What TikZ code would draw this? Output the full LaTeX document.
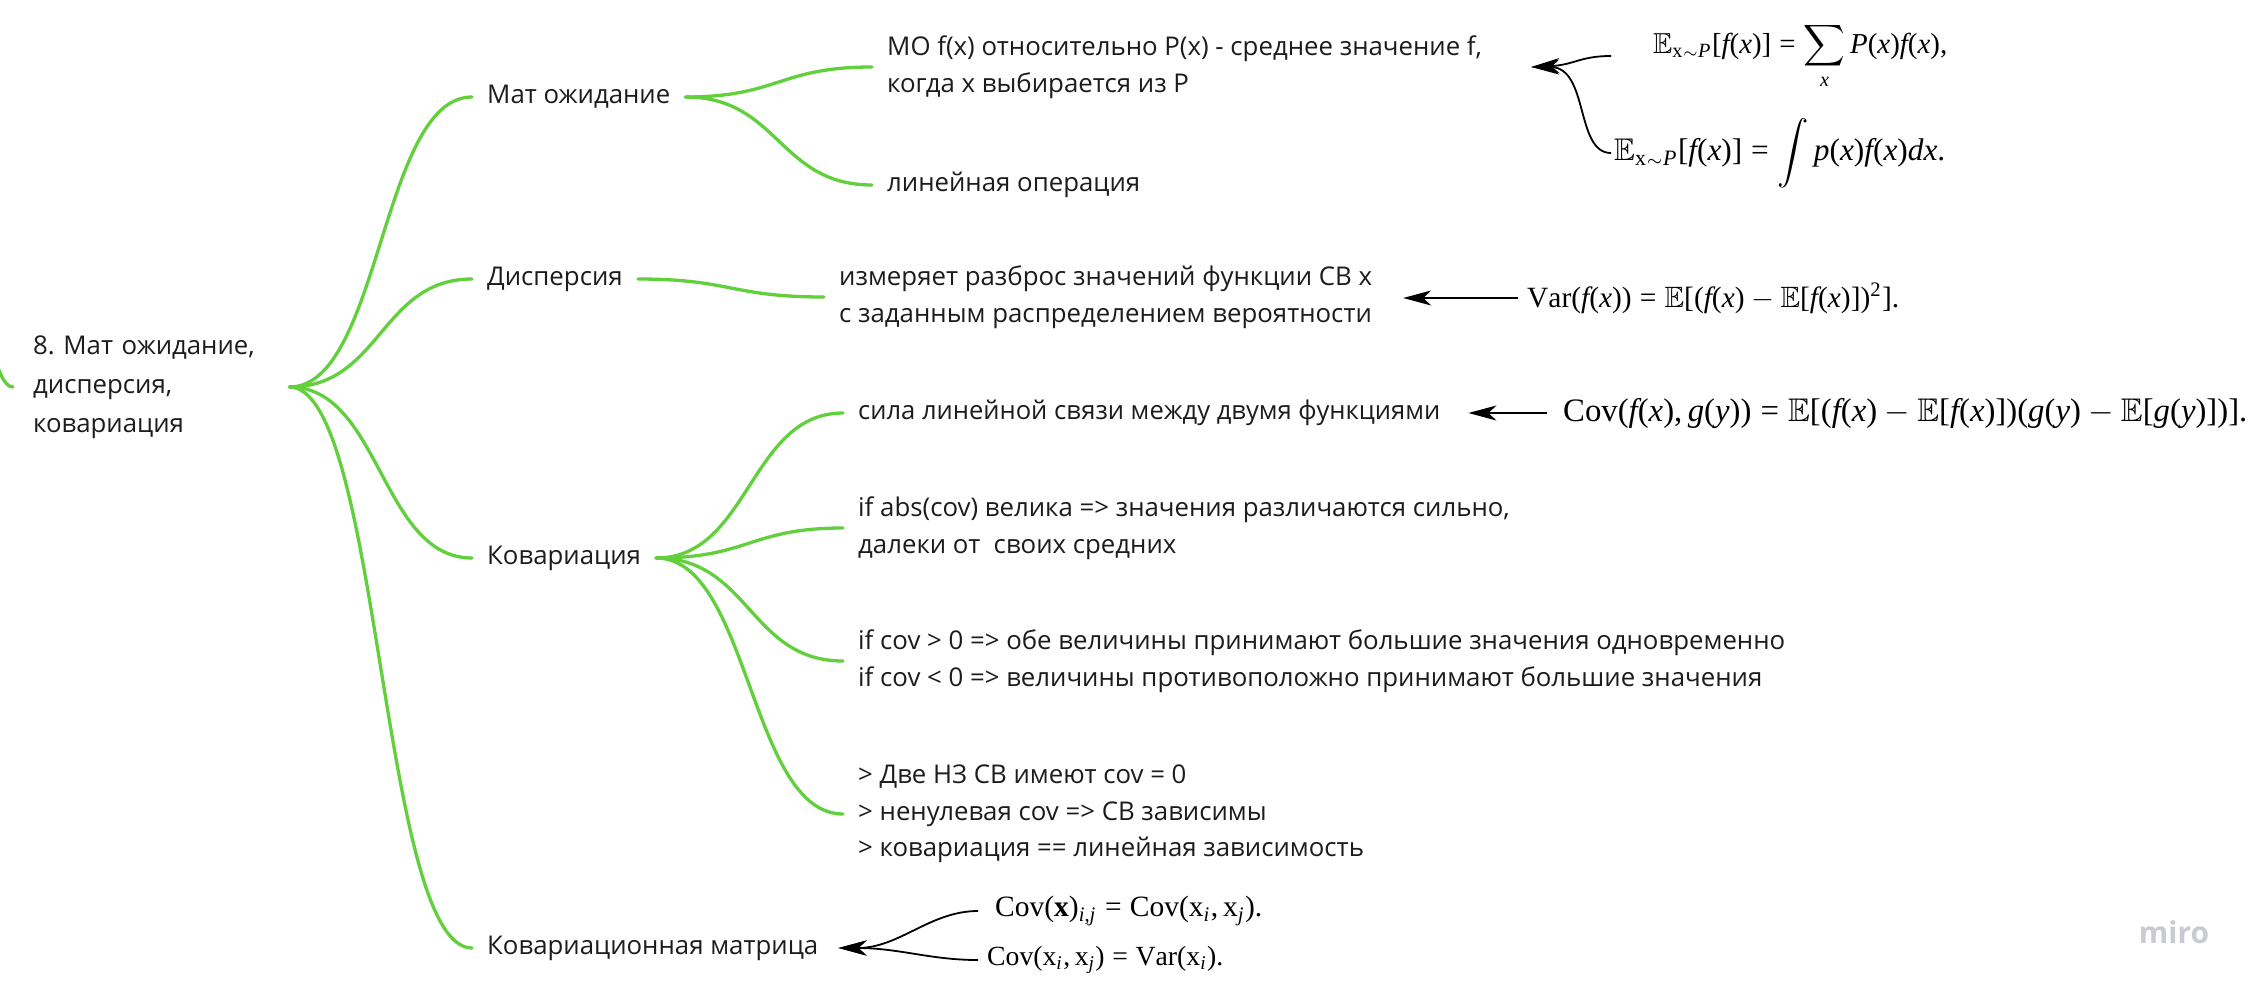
\documentclass[tikz,border=0pt]{standalone}
\usepackage{amsmath}
\usepackage{amssymb}
\usepackage[no-math]{fontspec}
\setmainfont{Open Sans}
\newfontfamily\tms{Liberation Serif}[NFSSFamily=tmsfam]
\SetSymbolFont{operators}{normal}{TU}{tmsfam}{m}{n}
\SetSymbolFont{letters}{normal}{TU}{tmsfam}{m}{it}
\SetMathAlphabet{\mathbf}{normal}{TU}{tmsfam}{b}{n}
\AtBeginDocument{\mathcode`\,="602C \mathcode`\.="002E}
\usepackage{graphicx}
\usetikzlibrary{arrows.meta,calc}
\definecolor{branch}{HTML}{62CF3C}
\definecolor{ink}{HTML}{1C1C1C}
\definecolor{wm}{HTML}{CACAD2}
\newcommand{\mfs}{\fontsize{25.8}{36.5}\selectfont}
\newcommand{\rfs}{\fontsize{25.8}{39}\selectfont}
\frenchspacing
\begin{document}
\begin{tikzpicture}[x=1pt,y=-1pt,
  hcurve/.style={to path={let \p1=(\tikztostart), \p2=(\tikztotarget) in .. controls ({(\x1+\x2)/2},\y1) and ({(\x1+\x2)/2},\y2) .. (\tikztotarget) \tikztonodes}},
  branchline/.style={draw=branch, line width=3.3pt, line cap=round, hcurve},
  txt/.style={anchor=west, inner xsep=15pt, inner ysep=3pt, align=left, text=ink, font=\mfs},
  fml/.style={anchor=west, inner ysep=0pt, text=black},
  blk/.style={draw=black, line width=1.8pt, -{Stealth[length=28pt,width=15pt,inset=8pt]}},
]
\fill[white] (0,0) rectangle (2262,994);
\useasboundingbox (0,0) rectangle (2262,994);

% root and incoming branch
\coordinate (rootin) at (-60,100);
\node[txt, font=\rfs, text width=236pt, inner xsep=20pt] (root) at (13,387) {8. Мат ожидание,\\дисперсия,\\ковариация};

% level 1
\node[txt] (mat) at (472,97) {Мат ожидание};
\node[txt] (disp) at (472,279) {Дисперсия};
\node[txt] (cov) at (472,558) {Ковариация};
\node[txt] (cmat) at (472,948) {Ковариационная матрица};

% level 2
\node[txt] (mo) at (872,67) {МО f(x) относительно P(x) - среднее значение f,\\когда x выбирается из P};
\node[txt] (lin) at (872,185) {линейная операция};
\node[txt] (meas) at (824,297) {измеряет разброс значений функции СВ х\\с заданным распределением вероятности};
\node[txt] (c1) at (843,413) {\resizebox{582pt}{\height}{сила линейной связи между двумя функциями}};
\node[txt] (c2) at (843,528) {if abs(cov) велика => значения различаются сильно,\\далеки от\ \ своих средних};
\node[txt] (c3) at (843,661) {if cov > 0 => обе величины принимают большие значения одновременно\\if cov < 0 => величины противоположно принимают большие значения};
\node[txt] (c4) at (843,814) {> Две НЗ СВ имеют cov = 0\\> ненулевая cov => СВ зависимы\\> ковариация == линейная зависимость};

% formulas
\node[fml, inner xsep=42pt] (e1) at (1611,56) {\resizebox{294pt}{!}{$\displaystyle \mathbb{E}_{\mathrm{x}{\scriptscriptstyle\sim}P}[f(x)]=\sum_x P(x)f(x),$}};
\node[fml, inner xsep=3pt] (e2) at (1611,153) {\resizebox{331pt}{!}{$\displaystyle \mathbb{E}_{\mathrm{x}{\scriptscriptstyle\sim}P}[f(x)]=\int p(x)f(x)dx.$}};
\node[fml, inner xsep=9pt] (varf) at (1518,298) {\resizebox{372pt}{!}{$\mathrm{Var}(f(x))=\mathbb{E}[(f(x)-\mathbb{E}[f(x)])^2].$}};
\node[fml, inner xsep=16pt] (covf) at (1547,413) {\resizebox{684pt}{!}{$\mathrm{Cov}(f(x),g(y))=\mathbb{E}[(f(x)-\mathbb{E}[f(x)])(g(y)-\mathbb{E}[g(y)])].$}};
\node[fml, inner xsep=17pt] (cm1) at (978,911) {\resizebox{267pt}{!}{$\mathrm{Cov}(\mathbf{x})_{i,j}=\mathrm{Cov}(\mathrm{x}_i,\mathrm{x}_j).$}};
\node[fml, inner xsep=9pt] (cm2) at (978,960) {\resizebox{236pt}{!}{$\mathrm{Cov}(\mathrm{x}_i,\mathrm{x}_j)=\mathrm{Var}(\mathrm{x}_i).$}};

% watermark
\node[text=wm, font=\fontsize{30}{30}\selectfont\bfseries] (miro) at (2174,932) {miro};

% green branches
\draw[branchline] (rootin) to (root.west);
\draw[branchline] (root.east) to (mat.west);
\draw[branchline] (root.east) to (disp.west);
\draw[branchline] (root.east) to (cov.west);
\draw[branchline] (root.east) to (cmat.west);
\draw[branchline] (mat.east) to (mo.west);
\draw[branchline] (mat.east) to (lin.west);
\draw[branchline] (disp.east) to (meas.west);
\draw[branchline] (cov.east) to (c1.west);
\draw[branchline] (cov.east) to (c2.west);
\draw[branchline] (cov.east) to (c3.west);
\draw[branchline] (cov.east) to (c4.west);

% black arrows
\draw[blk] (e1.west) .. controls +(-31,0) and +(43,-2) .. ([xshift=34pt]mo.east);
\draw[blk] (e2.west) .. controls +(-36,0) and +(58,0) .. ([xshift=34pt]mo.east);
\draw[blk, shorten >=16pt] (varf.west) -- (varf.west -| meas.east);
\draw[blk, shorten >=13pt] (covf.west) -- (covf.west -| c1.east);
\draw[blk] (cm1.west) .. controls +(-48,0) and +(61,0) .. ([xshift=5pt]cmat.east);
\draw[blk] (cm2.west) .. controls +(-48,0) and +(61,0) .. ([xshift=5pt]cmat.east);
\end{tikzpicture}
\end{document}
